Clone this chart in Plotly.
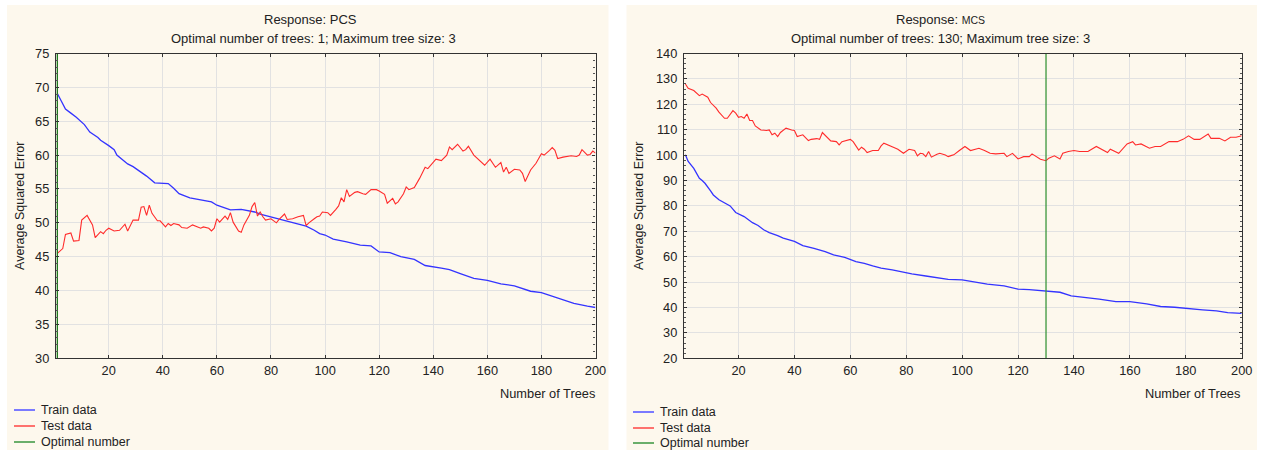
import plotly.graph_objects as go

W, H = 1261, 452

# ---------------- data ----------------
pcs_train_x = [1, 3, 4, 6, 8, 11, 13, 16, 17, 20, 22, 23, 27, 29, 32, 34, 37, 42, 44, 46, 50, 54, 58, 60, 65, 69,
               74, 76, 80, 84, 88, 93, 96, 98, 100, 103, 108, 113, 117, 120, 124, 128, 133, 137, 143, 146, 150, 155,
               160, 165, 170, 176, 180, 186, 192, 197, 200]
pcs_train_y = [69.1, 67.6, 66.8, 66.2, 65.6, 64.5, 63.4, 62.6, 62.2, 61.4, 60.8, 60.0, 58.7, 58.3, 57.5, 56.9, 55.9,
               55.8, 55.1, 54.3, 53.7, 53.4, 53.1, 52.6, 51.9, 52.0, 51.6, 51.3, 50.9, 50.4, 50.0, 49.5, 48.9, 48.4,
               48.2, 47.6, 47.2, 46.7, 46.6, 45.7, 45.6, 45.0, 44.6, 43.7, 43.3, 43.1, 42.5, 41.8, 41.5, 41.0, 40.7,
               39.9, 39.7, 38.9, 38.1, 37.7, 37.5]

pcs_test_x = [1, 3, 4, 6, 7, 9, 10, 12, 14, 15, 17, 18, 19, 20, 22, 24, 26, 27, 29, 31, 32, 33, 34, 35, 36, 38, 39,
              41, 42, 43, 44, 46, 47, 49, 51, 54, 55, 57, 58, 59, 60, 61, 63, 64, 65, 66, 68, 69, 70, 72, 73, 74, 75,
              76, 77, 78, 80, 82, 83, 85, 86, 88, 90, 92, 93, 94, 96, 97, 98, 99, 101, 102, 104, 105, 106, 107, 108,
              109, 111, 112, 114, 115, 117, 119, 120, 122, 123, 125, 126, 127, 129, 130, 131, 133, 135, 136, 137, 138,
              139, 141, 143, 145, 146, 147, 149, 151, 152, 153, 155, 157, 159, 161, 163, 165, 166, 167, 168, 170, 172,
              173, 174, 176, 178, 180, 181, 183, 184, 185, 186, 188, 191, 193, 194, 195, 197, 198, 199, 200]
pcs_test_y = [45.5, 46.2, 48.3, 48.5, 47.3, 47.4, 50.4, 51.1, 49.7, 47.8, 48.7, 48.4, 48.9, 49.2, 48.8, 48.9, 49.8,
              48.8, 50.4, 50.4, 52.3, 52.4, 51.1, 52.6, 51.4, 50.3, 50.3, 49.4, 49.9, 49.6, 49.9, 49.7, 49.3, 49.2,
              49.7, 49.2, 49.4, 49.2, 48.8, 49.2, 50.6, 50.1, 51.0, 50.5, 51.5, 50.1, 48.8, 48.6, 49.7, 51.1, 52.4,
              53.0, 51.0, 51.6, 50.9, 50.4, 50.6, 50.0, 50.5, 51.3, 50.5, 50.6, 50.9, 51.1, 49.6, 50.0, 50.6, 50.9,
              51.0, 51.6, 51.5, 51.1, 52.0, 52.5, 53.7, 53.1, 54.9, 53.9, 54.5, 54.6, 54.3, 54.2, 54.9, 54.9, 54.7,
              54.2, 52.9, 53.6, 52.8, 53.1, 54.3, 55.3, 54.9, 55.2, 56.6, 57.4, 58.2, 58.0, 58.5, 59.4, 59.2, 60.0,
              61.2, 60.8, 61.6, 60.6, 60.8, 61.3, 60.0, 59.2, 58.5, 59.4, 58.2, 58.9, 57.5, 58.2, 57.3, 57.9, 57.8,
              57.3, 56.1, 57.8, 58.8, 60.2, 60.0, 60.7, 61.1, 60.7, 59.5, 59.7, 59.9, 59.8, 60.0, 60.8, 60.0, 60.1,
              60.6, 60.3]

mcs_train_x = [1, 2, 4, 6, 7, 8, 10, 11, 13, 15, 17, 19, 22, 25, 27, 29, 31, 34, 36, 40, 43, 47, 51, 54, 58, 62, 65,
               68, 71, 75, 78, 82, 87, 92, 95, 100, 104, 109, 115, 120, 124, 130, 135, 139, 145, 149, 155, 160, 166,
               171, 176, 180, 186, 191, 195, 200]
mcs_train_y = [100.1, 97.5, 94.8, 90.9, 90.0, 88.9, 85.9, 84.3, 82.4, 81.3, 80.0, 77.4, 75.8, 73.4, 72.3, 70.6, 69.5,
               68.3, 67.3, 66.0, 64.4, 63.3, 62.0, 60.7, 59.7, 58.1, 57.4, 56.4, 55.5, 54.8, 54.1, 53.2, 52.4, 51.5,
               51.1, 50.9, 50.2, 49.2, 48.5, 47.2, 47.0, 46.3, 46.0, 44.6, 43.9, 43.3, 42.3, 42.3, 41.4, 40.4, 40.1,
               39.6, 39.1, 38.7, 38.0, 37.7]

mcs_test_x = [1, 2, 4, 5, 6, 7, 9, 10, 12, 13, 15, 16, 17, 18, 19, 20, 21, 22, 23, 24, 25, 26, 28, 30, 31, 32, 33, 34,
              35, 37, 39, 40, 41, 43, 45, 46, 48, 49, 50, 52, 53, 55, 56, 57, 59, 60, 61, 62, 63, 64, 65, 66, 68, 70,
              71, 72, 74, 76, 77, 79, 81, 83, 84, 85, 86, 87, 88, 89, 91, 92, 94, 95, 96, 97, 99, 101, 103, 105, 106,
              108, 110, 112, 115, 116, 118, 120, 122, 124, 125, 128, 130, 131, 133, 135, 136, 138, 140, 142, 145, 148,
              150, 152, 153, 156, 159, 161, 162, 164, 167, 169, 171, 174, 177, 179, 181, 183, 185, 188, 189, 192, 194,
              196, 198, 200]
mcs_test_y = [128.0, 126.3, 125.4, 124.4, 123.4, 124.0, 122.8, 120.7, 118.5, 116.9, 114.5, 114.5, 115.8, 117.5, 116.5,
              114.9, 115.2, 114.5, 116.2, 113.6, 113.6, 111.5, 109.9, 109.7, 109.9, 108.0, 108.6, 107.3, 108.9, 110.6,
              109.9, 109.7, 107.3, 108.0, 105.7, 106.2, 106.5, 106.2, 108.9, 106.6, 105.6, 105.3, 104.0, 105.3, 106.0,
              106.2, 105.3, 103.4, 102.0, 103.1, 102.3, 101.0, 101.8, 101.8, 103.6, 104.7, 103.6, 102.8, 102.3, 100.7,
              102.3, 101.8, 99.7, 100.7, 100.5, 99.4, 101.4, 99.2, 100.3, 100.7, 100.0, 99.4, 99.8, 100.1, 101.8,
              103.4, 101.8, 102.3, 102.7, 101.8, 100.7, 100.5, 100.7, 99.4, 100.7, 98.5, 99.4, 99.4, 100.5, 98.4,
              97.8, 98.8, 99.7, 98.5, 100.7, 101.4, 101.8, 101.4, 101.4, 103.4, 102.3, 101.0, 102.3, 100.7, 104.4,
              105.3, 104.0, 104.4, 102.7, 103.4, 103.4, 105.3, 105.3, 106.2, 107.6, 106.2, 106.2, 108.3, 106.6, 106.6,
              105.6, 107.0, 107.0, 107.6]

pcs_optimal = 1
mcs_optimal = 130
pcs_yrange = [30, 75]
mcs_yrange = [20, 140]
x_ticks = [20, 40, 60, 80, 100, 120, 140, 160, 180, 200]
legend_names = ["Train data", "Test data", "Optimal number"]

# ---------------- styling ----------------
FONT = "Liberation Sans, Arial, sans-serif"
TXT = "#222222"
CREAM = "#fdf8ed"
BLUE = "#3434ff"
RED = "#ff2b2b"
GREEN = "#3c963c"
GRID = "#e2e2e2"
LEGEND_COLORS = ["#7a7aff", "#ff1a1a", "#6aae6a"]
LEGEND_WIDTHS = [2, 1.2, 2]


def px(x):
    return x / W


def py(y):
    return 1 - y / H


fig = go.Figure()

panels = [
    dict(xa="x", ya="y", tx=pcs_train_x, ty=pcs_train_y, sx=pcs_test_x, sy=pcs_test_y,
         opt=pcs_optimal, yr=pcs_yrange, gc="#1f7a1f"),
    dict(xa="x2", ya="y2", tx=mcs_train_x, ty=mcs_train_y, sx=mcs_test_x, sy=mcs_test_y,
         opt=mcs_optimal, yr=mcs_yrange, gc=GREEN),
]
for p in panels:
    fig.add_trace(go.Scatter(x=p["tx"], y=p["ty"], mode="lines", name=legend_names[0],
                             line=dict(color=BLUE, width=1.3), xaxis=p["xa"], yaxis=p["ya"]))
    fig.add_trace(go.Scatter(x=p["sx"], y=p["sy"], mode="lines", name=legend_names[1],
                             line=dict(color=RED, width=1.1), xaxis=p["xa"], yaxis=p["ya"]))
    fig.add_trace(go.Scatter(x=[p["opt"], p["opt"]], y=p["yr"], mode="lines", name=legend_names[2],
                             line=dict(color=p["gc"], width=1.3), xaxis=p["xa"], yaxis=p["ya"]))

# geometry (pixels)
PLOT_TOP, PLOT_BOT = 53.5, 358.3
LX0, LX1 = 56, 595.5
RX0, RX1 = 684, 1241.7
ydom = [py(PLOT_BOT), py(PLOT_TOP)]

xcommon = dict(range=[0.5, 200], tickvals=x_ticks, showgrid=True, gridcolor=GRID, gridwidth=1,
               showline=True, linecolor="#333333", linewidth=1.2, mirror="ticks", ticks="inside",
               ticklen=3, tickcolor="#333333", zeroline=False,
               tickfont=dict(family=FONT, size=12.8, color=TXT), fixedrange=True)
ycommon = dict(showgrid=True, gridcolor=GRID, gridwidth=1, showline=True, linecolor="#333333",
               linewidth=1.2, mirror="ticks", ticks="inside", ticklen=3, tickcolor="#333333",
               zeroline=False, tickfont=dict(family=FONT, size=12.8, color=TXT), ticklabelstandoff=3,
               minor=dict(ticks="inside", ticklen=2, tickcolor="#555555", nticks=5, showgrid=False))

fig.update_layout(
    width=W, height=H,
    margin=dict(l=0, r=0, t=0, b=0, autoexpand=False),
    paper_bgcolor="white",
    plot_bgcolor="white",
    font=dict(family=FONT, size=12, color=TXT),
    xaxis=dict(domain=[px(LX0), px(LX1)], anchor="y", **xcommon),
    yaxis=dict(domain=ydom, anchor="x", range=pcs_yrange, dtick=5, **ycommon),
    xaxis2=dict(domain=[px(RX0), px(RX1)], anchor="y2", **xcommon),
    yaxis2=dict(domain=ydom, anchor="x2", range=mcs_yrange, dtick=10, **ycommon),
    showlegend=False,
)

# cream panel backgrounds
for x0, x1 in [(7, 608.5), (626.5, 1257)]:
    fig.add_shape(type="rect", xref="paper", yref="paper", x0=px(x0), x1=px(x1), y0=py(450), y1=py(5),
                  fillcolor=CREAM, line=dict(width=0), layer="below")

# titles and axis titles
annots = [
    (310, 20, "Response: PCS", 13),
    (313, 38, "Optimal number of trees: 1; Maximum tree size: 3", 13),
    (940, 20, "Response: <span style='font-size:10.5px'>MCS</span>", 13),
    (940, 38, "Optimal number of trees: 130; Maximum tree size: 3", 13),
]
for x, y, t, s in annots:
    fig.add_annotation(x=px(x), y=py(y), xref="paper", yref="paper", text=t, showarrow=False,
                       xanchor="center", yanchor="middle", font=dict(family=FONT, size=s, color=TXT))

for xr, yc in [(LX1 + 1, 393), (RX1, 393)]:
    fig.add_annotation(x=px(xr), y=py(yc), xref="paper", yref="paper", text="Number of Trees",
                       showarrow=False, xanchor="right", yanchor="middle",
                       font=dict(family=FONT, size=12.8, color=TXT))
for xc in [20, 639]:
    fig.add_annotation(x=px(xc), y=py((PLOT_TOP + PLOT_BOT) / 2), xref="paper", yref="paper",
                       text="Average Squared Error", textangle=-90, showarrow=False,
                       xanchor="center", yanchor="middle", font=dict(family=FONT, size=12.5, color=TXT))

# legends (one per panel)
legend_layout = [(14, [410, 426, 442]), (633, [412, 428, 443])]
for lx, rows in legend_layout:
    for name, col, lw, ry in zip(legend_names, LEGEND_COLORS, LEGEND_WIDTHS, rows):
        fig.add_shape(type="line", xref="paper", yref="paper", x0=px(lx), x1=px(lx + 21),
                      y0=py(ry), y1=py(ry), line=dict(color=col, width=lw))
        fig.add_annotation(x=px(lx + 25), y=py(ry), xref="paper", yref="paper", text=name,
                           showarrow=False, xanchor="left", yanchor="middle",
                           font=dict(family=FONT, size=12.5, color=TXT))

fig.write_html("out.html")
